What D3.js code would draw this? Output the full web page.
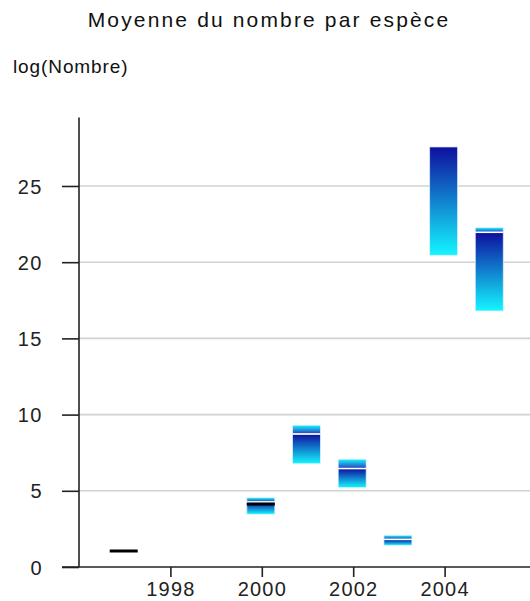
<!DOCTYPE html>
<html>
<head>
<meta charset="utf-8">
<script src="https://cdn.jsdelivr.net/npm/d3@7"></script>
<style>
  html, body { margin: 0; padding: 0; background: #fff; }
  svg { display: block; }
</style>
</head>
<body>
<svg id="chart" width="530" height="601"></svg>
<script>
// Yearly range of log(Nombre): low, mean and high per year
const years = [2000, 2001, 2002, 2003, 2004, 2005];
const lows  = [3.46, 6.78, 5.21, 1.42, 20.45, 16.80];
const means = [4.27, 8.73, 6.46, 1.81, 27.56, 21.96];
const highs = [4.55, 9.30, 7.07, 2.08, 27.56, 22.27];

// Single-value markers (black dashes)
const markerYears  = [1997, 2000];
const markerValues = [1.05, 4.13];

const xTicks = [1998, 2000, 2002, 2004];
const yTicks = [0, 5, 10, 15, 20, 25];

const titleText = "Moyenne du nombre par espèce";
const yLabelText = "log(Nombre)";

const svg = d3.select("#chart");
const W = 530;
const font = "'Liberation Sans', Arial, sans-serif";

const x = d3.scaleLinear().domain([1996, 2006]).range([79, 536]);
const y = d3.scaleLinear().domain([0, 29.5]).range([567, 117.4]);

// gradients: dark blue at the mean, cyan toward the extremes
const defs = svg.append("defs");
const dark = "#0e0e9e", cyan = "#14f6ff";
const gLow = defs.append("linearGradient").attr("id", "gLow")
  .attr("x1", 0).attr("y1", 0).attr("x2", 0).attr("y2", 1);
gLow.append("stop").attr("offset", "0%").attr("stop-color", dark);
gLow.append("stop").attr("offset", "100%").attr("stop-color", cyan);
const gHigh = defs.append("linearGradient").attr("id", "gHigh")
  .attr("x1", 0).attr("y1", 0).attr("x2", 0).attr("y2", 1);
gHigh.append("stop").attr("offset", "0%").attr("stop-color", cyan);
gHigh.append("stop").attr("offset", "100%").attr("stop-color", "#2a3cbc");

// title and axis label
svg.append("text")
  .attr("x", 269).attr("y", 27)
  .attr("text-anchor", "middle")
  .attr("font-family", font)
  .attr("font-size", 21)
  .attr("letter-spacing", 2.15)
  .attr("fill", "#111")
  .text(titleText);

svg.append("text")
  .attr("x", 13).attr("y", 73)
  .attr("font-family", font)
  .attr("font-size", 19)
  .attr("letter-spacing", 0.9)
  .attr("fill", "#111")
  .text(yLabelText);

// gridlines
svg.append("g")
  .selectAll("line")
  .data(yTicks.filter(d => d > 0))
  .join("line")
  .attr("x1", 79).attr("x2", W)
  .attr("y1", d => y(d)).attr("y2", d => y(d))
  .attr("stroke", "#d2d2d2")
  .attr("stroke-width", 1.6);

// y axis
const yAxis = svg.append("g")
  .attr("transform", "translate(79,0)")
  .call(d3.axisLeft(y).tickValues(yTicks).tickSize(17).tickPadding(19).tickFormat(d3.format("d")));
yAxis.select(".domain").remove();
yAxis.append("line")
  .attr("x1", 0).attr("x2", 0)
  .attr("y1", y.range()[1]).attr("y2", y(0))
  .attr("stroke", "#222").attr("stroke-width", 1.6);
yAxis.selectAll(".tick line").attr("stroke", "#222").attr("stroke-width", 1.6);
yAxis.selectAll(".tick text")
  .attr("font-family", font)
  .attr("font-size", 20)
  .attr("letter-spacing", 1.5)
  .attr("fill", "#222")
  .attr("dy", "0.36em");

// x axis
const xAxis = svg.append("g")
  .attr("transform", `translate(0,${y(0)})`)
  .call(d3.axisBottom(x).tickValues(xTicks).tickSize(10).tickPadding(5).tickFormat(d3.format("d")));
xAxis.select(".domain").remove();
xAxis.append("line")
  .attr("x1", 62).attr("x2", W)
  .attr("y1", 0).attr("y2", 0)
  .attr("stroke", "#222").attr("stroke-width", 1.6);
xAxis.selectAll(".tick line").attr("stroke", "#222").attr("stroke-width", 1.6);
xAxis.selectAll(".tick text")
  .attr("font-family", font)
  .attr("font-size", 20)
  .attr("letter-spacing", 1.2)
  .attr("fill", "#222");

// range bars
const rows = years.map((yr, i) => ({ yr, lo: lows[i], mean: means[i], hi: highs[i] }));
const bw = 28, off = -15;
const bars = svg.append("g");

bars.selectAll("rect.low")
  .data(rows)
  .join("rect")
  .attr("class", "low")
  .attr("x", d => x(d.yr) + off)
  .attr("width", bw)
  .attr("y", d => y(d.mean))
  .attr("height", d => y(d.lo) - y(d.mean))
  .attr("fill", "url(#gLow)")
  .attr("stroke", "#e8f4ff").attr("stroke-opacity", 0.7).attr("stroke-width", 1);

bars.selectAll("rect.high")
  .data(rows.filter(d => d.hi > d.mean))
  .join("rect")
  .attr("class", "high")
  .attr("x", d => x(d.yr) + off)
  .attr("width", bw)
  .attr("y", d => y(d.hi))
  .attr("height", d => y(d.mean) - y(d.hi))
  .attr("fill", "url(#gHigh)")
  .attr("stroke", "#e8f4ff").attr("stroke-opacity", 0.7).attr("stroke-width", 1);

bars.selectAll("line.mean")
  .data(rows.filter(d => d.hi > d.mean))
  .join("line")
  .attr("class", "mean")
  .attr("x1", d => x(d.yr) + off)
  .attr("x2", d => x(d.yr) + off + bw)
  .attr("y1", d => y(d.mean)).attr("y2", d => y(d.mean))
  .attr("stroke", "#fff").attr("stroke-width", 1.5);

// black value markers
const markers = markerYears.map((yr, i) => ({ yr, v: markerValues[i] }));
svg.append("g")
  .selectAll("line")
  .data(markers)
  .join("line")
  .attr("x1", d => x(d.yr) + off)
  .attr("x2", d => x(d.yr) + off + bw)
  .attr("y1", d => y(d.v)).attr("y2", d => y(d.v))
  .attr("stroke", "#000").attr("stroke-width", 3);
</script>
</body>
</html>
